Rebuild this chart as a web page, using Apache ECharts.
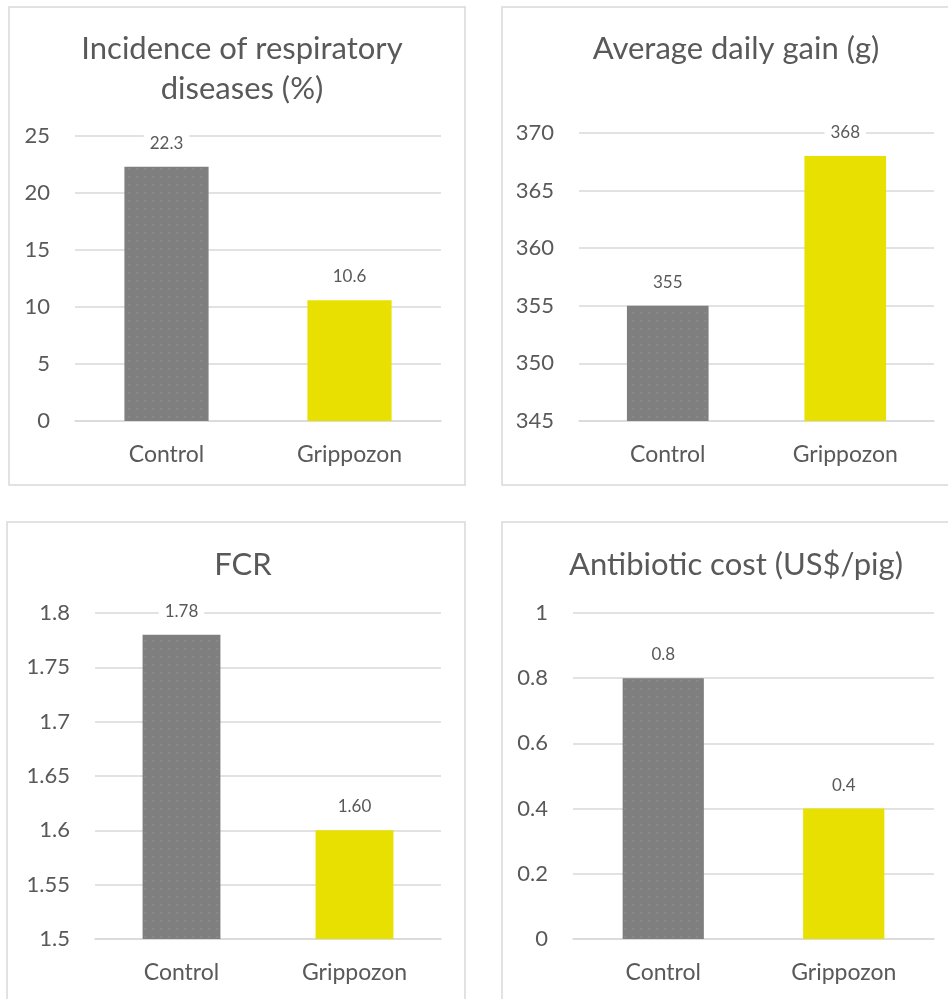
<!DOCTYPE html>
<html>
<head>
<meta charset="utf-8">
<script src="https://cdn.jsdelivr.net/npm/echarts@6/dist/echarts.min.js"></script>
<style>
html,body{margin:0;padding:0;background:#fff;}
#c{width:948px;height:999px;}
</style>
</head>
<body>
<div id="c"></div>
<script>
const categories = ['Control', 'Grippozon'];
const titles = ['Incidence of respiratory\ndiseases (%)', 'Average daily gain (g)', 'FCR', 'Antibiotic cost (US$/pig)'];
const incidence = [22.3, 10.6];
const dailyGain = [355, 368];
const fcr = [1.78, 1.60];
const antibioticCost = [0.8, 0.4];
const yMin = [0, 345, 1.5, 0];
const yMax = [25, 370, 1.8, 1];
const yInterval = [5, 5, 0.05, 0.2];
const labelDecimals = [1, 0, 2, 1];

const seriesData = [incidence, dailyGain, fcr, antibioticCost];
const barColors = ['#7f7f7f', '#e8e000'];
const textColor = '#595959';
const font = 'Lato';

const grids = [
  {left: 75, right: 507, top: 136, bottom: 578},
  {left: 579, right: 14, top: 133, bottom: 578},
  {left: 95, right: 507, top: 613, bottom: 60},
  {left: 573, right: 14, top: 613, bottom: 60}
];
const titlePos = [
  {left: 237, top: 24},
  {left: 731, top: 24},
  {left: 238, top: 540},
  {left: 731, top: 540}
];
const barWidths = ['46%', '46%', '45%', '45%'];
const boxes = [
  {x: 9, y: 7, width: 456, height: 478},
  {x: 502, y: 7, width: 470, height: 478},
  {x: 7, y: 522, width: 458, height: 500},
  {x: 502, y: 522, width: 470, height: 500}
];

const chart = echarts.init(document.getElementById('c'));
const option = {
  backgroundColor: '#fff',
  animation: false,
  title: titles.map((t, i) => ({
    text: t,
    left: titlePos[i].left,
    top: titlePos[i].top,
    textAlign: 'center',
    textStyle: {fontFamily: font, fontWeight: 400, fontSize: 31, color: textColor, lineHeight: 40}
  })),
  graphic: boxes.map(b => ({
    type: 'rect', shape: b, silent: true, z: -1,
    style: {fill: null, stroke: '#d9d9d9', lineWidth: 1.5}
  })),
  grid: grids,
  xAxis: grids.map((g, i) => ({
    type: 'category', gridIndex: i, data: categories,
    axisLine: {show: true, lineStyle: {color: '#d9d9d9', width: 1.5}},
    axisTick: {show: false},
    axisLabel: {margin: 22, fontFamily: font, fontSize: 23, color: textColor}
  })),
  yAxis: grids.map((g, i) => ({
    type: 'value', gridIndex: i, min: yMin[i], max: yMax[i], interval: yInterval[i],
    axisLine: {show: false}, axisTick: {show: false},
    splitLine: {lineStyle: {color: '#d9d9d9', width: 1.5}},
    axisLabel: {margin: 25, fontFamily: font, fontSize: 22, color: textColor}
  })),
  series: seriesData.map((d, i) => ({
    type: 'bar', xAxisIndex: i, yAxisIndex: i, barWidth: barWidths[i],
    data: d.map((v, j) => ({
      value: v,
      itemStyle: j === 0 ? {
        color: barColors[0],
        decal: {symbol: 'circle', symbolSize: 0.8, dashArrayX: [[2, 6]], dashArrayY: [2, 6], color: 'rgba(255,255,255,0.18)'}
      } : {color: barColors[1]}
    })),
    label: {
      show: true, position: 'top', distance: 13,
      fontFamily: font, fontSize: 17, color: textColor,
      backgroundColor: '#fff', padding: [2, 6],
      formatter: p => Number(p.value).toFixed(labelDecimals[i])
    }
  }))
};
chart.setOption(option);
</script>
</body>
</html>
